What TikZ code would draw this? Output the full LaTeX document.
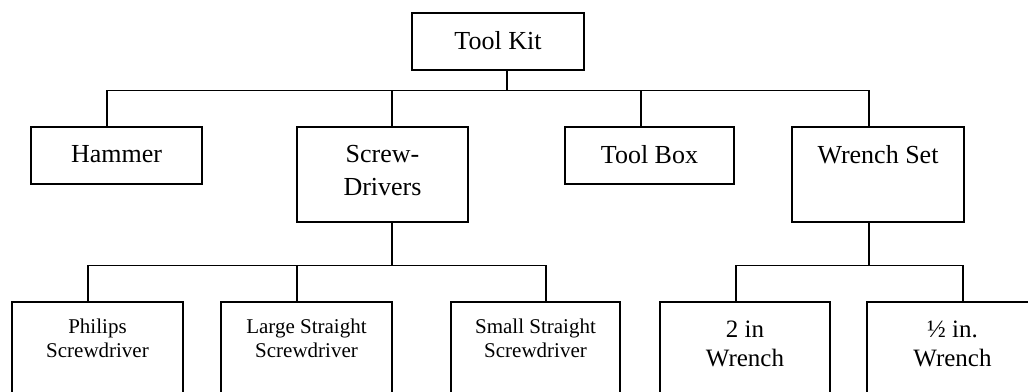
\documentclass[tikz,border=0pt]{standalone}
\usepackage{fontspec}
\setmainfont{Liberation Serif}
\tikzstyle{box}=[draw,rectangle,line width=1.6pt,anchor=north,minimum width=171pt,inner sep=0pt]
\tikzstyle{link}=[draw,line width=1.6pt]
\tikzstyle{toptext}=[anchor=north,inner sep=0pt,align=center,yshift=-19pt,font=\fontsize{26}{33}\selectfont]
\tikzstyle{sdtext}=[anchor=north,inner sep=0pt,align=center,yshift=-17.7pt,font=\fontsize{21}{24}\selectfont]
\tikzstyle{wrtext}=[anchor=north,inner sep=0pt,align=center,yshift=-20pt,font=\fontsize{25}{29}\selectfont]

\begin{document}
\begin{tikzpicture}[x=1pt,y=-1pt]
    \useasboundingbox (0,0) rectangle (1028,391);
    \clip (0,0) rectangle (1028,391);
    % top
    \path (498,12) node[box,minimum width=172pt,minimum height=57pt,label={[toptext]north:Tool Kit}] (kit) {};
    % second row
    \path (116.5,126) node[box,minimum height=57pt,label={[toptext]north:Hammer}] (hammer) {}
        ++ (266,0) node[box,minimum height=95pt,label={[toptext]north:{Screw-\\Drivers}}] (drivers) {}
        ++ (267,0) node[box,minimum width=169pt,minimum height=57pt,label={[toptext]north:Tool Box}] (toolbox) {}
        ++ (228.5,0) node[box,minimum width=172pt,minimum height=95pt,label={[toptext]north:Wrench Set}] (wrenches) {}
        ;
    % third row
    \path (97.5,301) node[box,minimum height=120pt,label={[sdtext]north:{Philips\\Screwdriver}}] (philips) {}
        ++ (209,0) node[box,minimum height=120pt,label={[sdtext]north:{Large Straight\\Screwdriver}}] (largesd) {}
        ++ (229,0) node[box,minimum width=169pt,minimum height=120pt,label={[sdtext]north:{Small Straight\\Screwdriver}}] (smallsd) {}
        ++ (209.5,0) node[box,minimum width=170pt,minimum height=120pt,label={[wrtext]north:{2 in\\Wrench}}] (wrench2) {}
        ++ (207.5,0) node[box,minimum height=120pt,label={[wrtext]north:{½ in.\\Wrench}}] (wrenchhalf) {}
        ;
    % connectors
    \draw[link] ([xshift=9pt]kit.south) -- ++(0,20) coordinate (kitbus);
    \foreach \n/\s in {hammer/-9.5, drivers/9.5, toolbox/-8.5, wrenches/-9}
        \draw[link] (kitbus) -| ([xshift=\s pt]\n.north);
    \draw[link] ([xshift=9.5pt]drivers.south) -- ++(0,43) coordinate (sdbus);
    \foreach \n/\s in {philips/-9.5, largesd/-9.5, smallsd/10.5}
        \draw[link] (sdbus) -| ([xshift=\s pt]\n.north);
    \draw[link] ([xshift=-9pt]wrenches.south) -- ++(0,43) coordinate (wrbus);
    \foreach \n/\s in {wrench2/-9, wrenchhalf/10.5}
        \draw[link] (wrbus) -| ([xshift=\s pt]\n.north);
\end{tikzpicture}
\end{document}
